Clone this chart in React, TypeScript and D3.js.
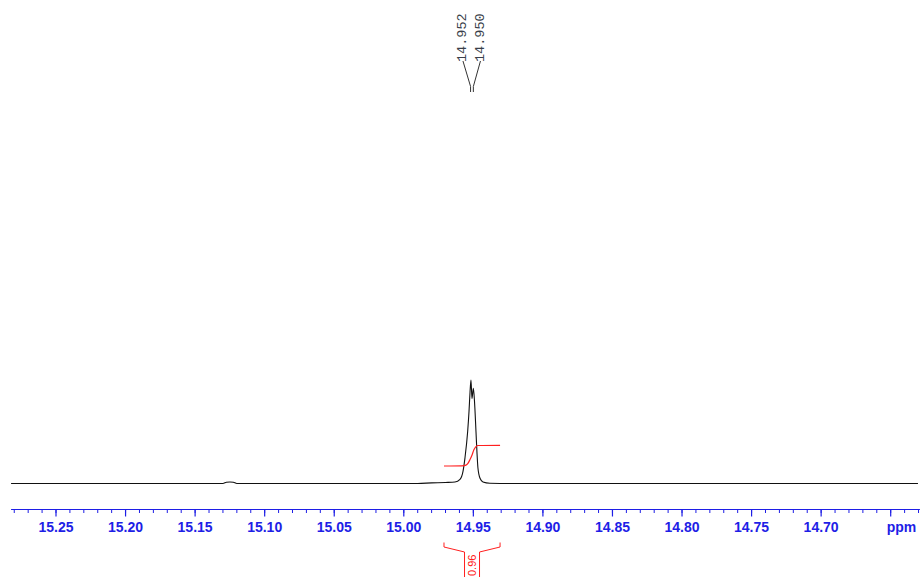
import React from "react";
import * as d3 from "d3";

// ---- data ----
const spectrumPpm = [
  15.2823, 15.2, 15.13, 15.1275, 15.125, 15.1225, 15.12, 15.05, 14.99, 14.98, 14.97,
  14.9632, 14.9596, 14.9574, 14.956, 14.9541, 14.9531, 14.9524, 14.9517, 14.951,
  14.95, 14.9492, 14.9481, 14.9474, 14.9467, 14.9452, 14.9431, 14.9381, 14.92, 14.85, 14.75, 14.6304,
];
const spectrumIntensity = [
  0, 0, 0, 1.2, 1.5, 1.2, 0, 0, 0, 0.6, 1,
  1.5, 4, 12, 25, 50, 70, 88, 100, 82,
  92, 80, 50, 30, 15, 5, 1.5, 0.3, 0, 0, 0, 0,
];

const integralPpm = [14.9711, 14.9582, 14.9553, 14.9539, 14.9524, 14.951, 14.9496, 14.9481, 14.9467, 14.9308];
const integralValue = [0, 0.01, 0.04, 0.12, 0.3, 0.5, 0.75, 0.9, 0.95, 0.96];
const integralLabel = "0.96";

const peakLabels = ["14.952", "14.950"];
const peakPositions = [14.952, 14.95];

const majorTicks = [15.25, 15.2, 15.15, 15.1, 15.05, 15.0, 14.95, 14.9, 14.85, 14.8, 14.75, 14.7, 14.65];
const tickLabels = ["15.25", "15.20", "15.15", "15.10", "15.05", "15.00", "14.95", "14.90", "14.85", "14.80", "14.75", "14.70", "ppm"];
const minorTicks = d3.range(0, 66).map((i) => +(15.28 - i * 0.01).toFixed(2));
const axisExtent = [15.2823, 14.629];

export default function App() {
  const W = 922;
  const H = 577;
  const x = d3.scaleLinear().domain([15.25, 14.65]).range([56, 890.7]);
  const y = d3.scaleLinear().domain([0, 100]).range([483.5, 380]);
  const yi = d3.scaleLinear().domain([0, 0.96]).range([466, 445.3]);

  const specPts: [number, number][] = spectrumPpm.map((p, i) => [x(p), y(spectrumIntensity[i])]);
  const specPath = d3.line().curve(d3.curveMonotoneX)(specPts) || "";
  const intPts: [number, number][] = integralPpm.map((p, i) => [x(p), yi(integralValue[i])]);
  const intPath = d3.line().curve(d3.curveMonotoneX)(intPts) || "";

  const axisY = 509.5;
  const blue = "#1e1ee6";
  const red = "#ff2020";

  // integral bracket
  const bl = x(integralPpm[0]);
  const br = x(integralPpm[integralPpm.length - 1]);
  const bc = (bl + br) / 2;

  // peak label positions
  const peakX = peakPositions.map((p) => x(p));
  const peakMid = (peakX[0] + peakX[1]) / 2;
  const labelX = [peakMid - 9, peakMid + 8.5];

  return (
    <svg
      width={W}
      height={H}
      style={{ position: "absolute", left: 0, top: 0, background: "#fff" }}
    >
      {/* spectrum */}
      <path d={specPath} fill="none" stroke="#111" strokeWidth={1.1} />
      {/* integral curve */}
      <path d={intPath} fill="none" stroke={red} strokeWidth={1.2} />

      {/* axis */}
      <line x1={x(axisExtent[0])} x2={x(axisExtent[1])} y1={axisY} y2={axisY} stroke={blue} strokeWidth={1.2} />
      {minorTicks.map((t) => (
        <line key={"m" + t} x1={x(t)} x2={x(t)} y1={axisY} y2={axisY + 3.5} stroke={blue} strokeWidth={1} />
      ))}
      {majorTicks.map((t) => (
        <line key={"M" + t} x1={x(t)} x2={x(t)} y1={axisY} y2={axisY + 7} stroke={blue} strokeWidth={1.2} />
      ))}
      {majorTicks.map((t, i) => (
        <text
          key={"l" + t}
          x={i === majorTicks.length - 1 ? x(t) - 4 : x(t)}
          y={531.5}
          textAnchor={i === majorTicks.length - 1 ? "start" : "middle"}
          fontFamily="'Liberation Sans', Arial, sans-serif"
          fontWeight="bold"
          fontSize={14}
          fill={blue}
        >
          {tickLabels[i]}
        </text>
      ))}

      {/* integral bracket */}
      <g stroke={red} strokeWidth={1} fill="none">
        <polyline points={`${bl},542.5 ${bl},547 ${bc - 7.5},552 ${bc - 7.5},577`} />
        <polyline points={`${br},542.5 ${br},547 ${bc + 7.5},552 ${bc + 7.5},577`} />
      </g>
      <text
        transform={`translate(${bc},${576}) rotate(-90)`}
        textAnchor="start"
        dominantBaseline="central"
        fontFamily="'Liberation Sans', Arial, sans-serif"
        fontSize={11}
        fill={red}
      >
        {integralLabel}
      </text>

      {/* peak labels */}
      <g stroke="#333" strokeWidth={1} fill="none">
        {peakX.map((px, i) => (
          <polyline
            key={"pl" + i}
            points={`${labelX[i]},61 ${px},86.5 ${px},92`}
          />
        ))}
      </g>
      {peakLabels.map((l, i) => (
        <text
          key={"pt" + i}
          transform={`translate(${labelX[i]},${62}) rotate(-90)`}
          textAnchor="start"
          dominantBaseline="central"
          fontFamily="'Liberation Mono', 'DejaVu Sans Mono', monospace"
          fontSize={13.5}
          fill="#3a3f4a"
        >
          {l}
        </text>
      ))}
    </svg>
  );
}
